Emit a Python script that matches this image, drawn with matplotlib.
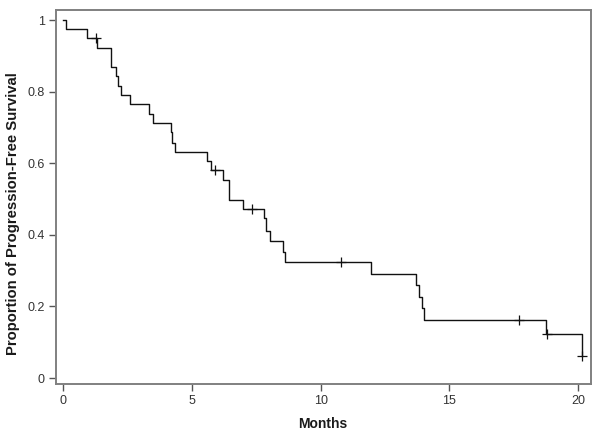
import matplotlib
matplotlib.use("Agg")
import matplotlib.pyplot as plt
from matplotlib.ticker import FixedLocator, FixedFormatter

# Kaplan-Meier step data
step_times = [0, 0.10, 0.91, 1.30, 1.85, 2.04, 2.11, 2.24, 2.57, 3.31, 3.48,
              4.18, 4.21, 4.34, 5.60, 5.73, 6.20, 6.45, 6.97, 7.78, 7.88,
              8.04, 8.53, 8.62, 11.97, 13.71, 13.84, 13.93, 14.00, 18.77, 20.15]
survival = [1.0, 0.976, 0.949, 0.921, 0.870, 0.844, 0.816, 0.791, 0.765, 0.739, 0.713,
            0.686, 0.658, 0.632, 0.607, 0.581, 0.553, 0.497, 0.471, 0.446, 0.411,
            0.384, 0.353, 0.323, 0.292, 0.260, 0.227, 0.195, 0.162, 0.123, 0.061]
censor_times = [1.27, 5.91, 7.32, 10.78, 17.73, 18.80, 20.18]
censor_surv = [0.949, 0.581, 0.471, 0.323, 0.162, 0.123, 0.061]

x_ticks = [0, 5, 10, 15, 20]
x_labels = ["0", "5", "10", "15", "20"]
y_ticks = [0, 0.2, 0.4, 0.6, 0.8, 1.0]
y_labels = ["0", "0.2", "0.4", "0.6", "0.8", "1"]

plt.rcParams['font.family'] = ['Liberation Sans', 'DejaVu Sans']

fig = plt.figure(figsize=(6.0, 4.38), dpi=100)
ax = fig.add_axes([0.0928, 0.123, 0.8917, 0.854])

# extend to last follow-up
xs = list(step_times) + [max(censor_times)]
ys = list(survival) + [survival[-1]]
ax.step(xs, ys, where='post', color='#111111', linewidth=1.0)
ax.plot(censor_times, censor_surv, linestyle='none', marker='+',
        markersize=7, markeredgewidth=0.9, color='#111111')

ax.set_xlim(-0.30, 20.5)
ax.set_ylim(-0.017, 1.028)

ax.xaxis.set_major_locator(FixedLocator(x_ticks))
ax.xaxis.set_major_formatter(FixedFormatter(x_labels))
ax.yaxis.set_major_locator(FixedLocator(y_ticks))
ax.yaxis.set_major_formatter(FixedFormatter(y_labels))

for s in ax.spines.values():
    s.set_color('#808080')
    s.set_linewidth(1.4)

ax.tick_params(axis='both', direction='out', length=5, width=1.0,
               color='#555555', labelsize=9, labelcolor='#333333', pad=3)

ax.set_xlabel('Months', fontsize=10, fontweight='bold', color='#1a1a1a', labelpad=7)
ax.set_ylabel('Proportion of Progression-Free Survival', fontsize=10.7,
              fontweight='bold', color='#1a1a1a')
ax.yaxis.set_label_coords(-0.066, 0.457)

fig.savefig('out.png', dpi=100)
